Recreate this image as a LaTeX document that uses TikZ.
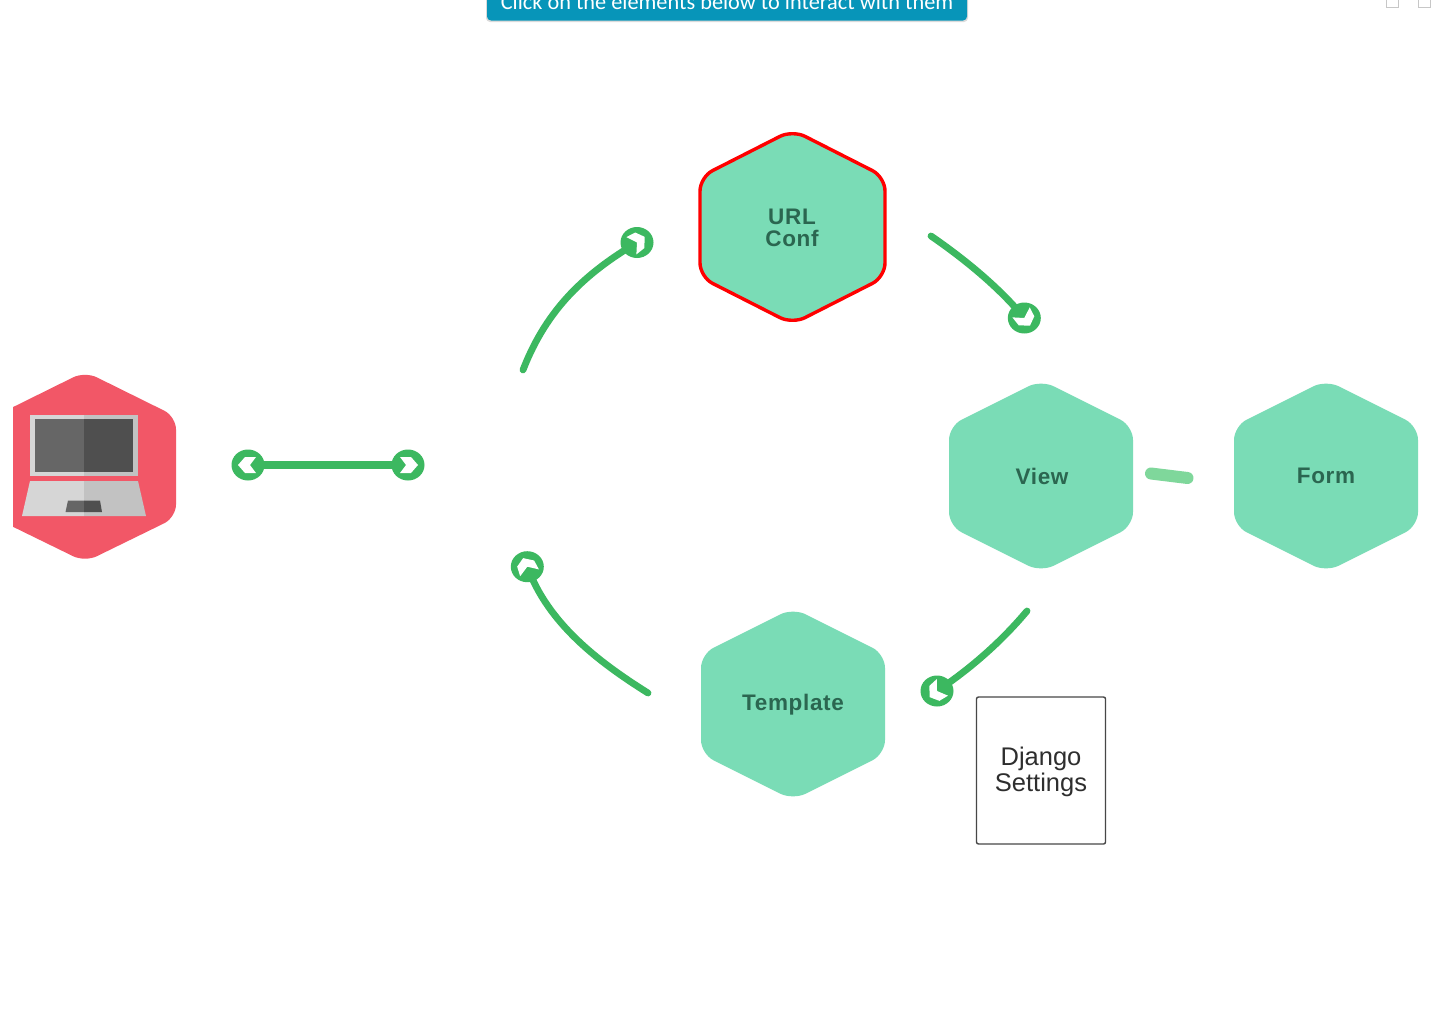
\documentclass[tikz,border=0pt]{standalone}
\usepackage{fontspec}
\setmainfont{Liberation Sans}
\newfontfamily\bannerfont{Carlito}
\usetikzlibrary{shapes.geometric}
\definecolor{hexgreen}{HTML}{7ADCB6}
\definecolor{hextext}{HTML}{2B6650}
\definecolor{linkgreen}{HTML}{3CB860}
\definecolor{dashgreen}{HTML}{7FD79B}
\definecolor{clientred}{HTML}{F25767}
\definecolor{bannerblue}{HTML}{0795B9}
\tikzset{
  hexlabel/.style={font=\fontsize{22.5}{22}\selectfont\bfseries\addfontfeatures{LetterSpace=3},text=hextext,align=center,inner sep=0pt},
  hexshape/.style={fill=hexgreen,rounded corners=14pt},
  endcap/.style={ellipse,fill=linkgreen,minimum width=33pt,minimum height=31pt,inner sep=0pt},
  link/.style={draw=linkgreen,line width=6.8pt,line cap=round},
}
\newcommand{\hexat}[3][]{% centre x, centre y
  \path[hexshape,#1] (#2,#3-96) -- (#2+92,#3-50) -- (#2+92,#3+50) -- (#2,#3+96) -- (#2-92,#3+50) -- (#2-92,#3-50) -- cycle;}
\newcommand{\chev}[2]{% node name, page angle: straight link
  \fill[white,shift={(#1.center)},rotate=#2] (-8,-8) -- (3,-8) -- (10,0) -- (3,8) -- (-8,8) -- (-2,0) -- cycle;}
\newcommand{\chevwide}[2]{% node name, page angle: curved link
  \fill[white,shift={(#1.center)},rotate=#2] (-6.5,-10) -- (3.5,-9.5) -- (9.5,-1) -- (3.5,8.5) -- (-6.5,10) -- (0,0) -- cycle;}
\begin{document}
\begin{tikzpicture}[x=1pt,y=-1pt]
\useasboundingbox (0,0) rectangle (1442,1017);
\fill[white] (0,0) rectangle (1442,1017);
% banner
\begin{scope}
  \clip (0,0) rectangle (1442,1017);
  \fill[black!14,rounded corners=4pt] (486,-20) rectangle (968,22);
  \fill[bannerblue,rounded corners=4pt] (487,-20) rectangle (967,20.5);
  \node[anchor=base,text=white,inner sep=0pt,font=\bannerfont\fontsize{22.3}{22}\selectfont] (banner) at (727,9.5) {Click on the elements below to interact with them};
  % small check boxes
  \draw[black!22,line width=.8pt] (1386.5,-3) rectangle (1398.5,7.5);
  \draw[black!22,line width=.8pt] (1418,-3) rectangle (1430,7.5);
\end{scope}
% client hexagon and laptop
\begin{scope}
  \clip (13,340) rectangle (200,600);
  \fill[clientred,rounded corners=13pt] (85,371.5) -- (176,416.5) -- (176,517.5) -- (85,562) -- (-6,517.5) -- (-6,416.5) -- cycle;
\end{scope}
\fill[black!16] (30,415) rectangle (84,476);
\fill[black!24] (84,415) rectangle (138,476);
\fill[black!60] (35,419) rectangle (84,472);
\fill[black!69] (84,419) rectangle (133,472);
\fill[black!16] (30,481) -- (84,481) -- (84,516) -- (22,516) -- cycle;
\fill[black!24] (84,481) -- (138,481) -- (146,516) -- (84,516) -- cycle;
\fill[black!60] (68,500.5) -- (84,500.5) -- (84,512) -- (65.5,512) -- cycle;
\fill[black!69] (84,500.5) -- (100,500.5) -- (102,512) -- (84,512) -- cycle;
% hexagons
\path[hexshape,draw=red,line width=3.4pt] (792.5,130) -- (885,177) -- (885,277) -- (792.5,324) -- (700,277) -- (700,177) -- cycle;
\hexat{1041}{476}
\hexat{1326}{476}
\hexat{793}{704}
\node[hexlabel] (urlconf) at (792,228) {URL\\Conf};
\node[hexlabel] (view) at (1042,476) {View};
\node[hexlabel] (form) at (1326,476) {Form};
\node[hexlabel] (template) at (793,705) {Template};
% settings box
\node[draw=black!72,line width=1.4pt,rounded corners=2pt,fill=white,minimum width=129pt,minimum height=147pt,inner sep=0pt] (settings) at (1041,770.5) {};
\node[align=center,text=black!82,inner sep=0pt,font=\fontsize{25.5}{26}\selectfont] (settingstext) at (1041,772) {Django\\Settings};
% connectors
\coordinate (a1) at (523,370);
\coordinate (a2) at (931,236);
\coordinate (a3) at (1027,611);
\coordinate (a4) at (648,693);
\coordinate (d1) at (1151,473.5);
\coordinate (d2) at (1187.5,478);
\node[endcap] (e0) at (248,465) {};
\node[endcap] (e5) at (408,465) {};
\node[endcap] (e1) at (637,242.5) {};
\node[endcap] (e2) at (1024.3,318) {};
\node[endcap] (e3) at (937,691) {};
\node[endcap] (e4) at (527.3,566.7) {};
\draw[link,line width=7.5pt] (e0.center) -- (e5.center);
\draw[link] (a1) .. controls (547,308) and (586,273) .. (e1.center);
\draw[link] (a2) .. controls (963,258) and (999,287) .. (e2.center);
\draw[link] (a3) .. controls (1001,642) and (970,669) .. (e3.center);
\draw[link] (a4) .. controls (597,661) and (548,623) .. (e4.center);
\chev{e0}{180}
\chev{e5}{0}
\chevwide{e1}{30}
\chevwide{e2}{-60}
\chevwide{e3}{-146}
\chevwide{e4}{110}
\draw[draw=dashgreen,line width=12pt,line cap=round] (d1) -- (d2);
\end{tikzpicture}
\end{document}
